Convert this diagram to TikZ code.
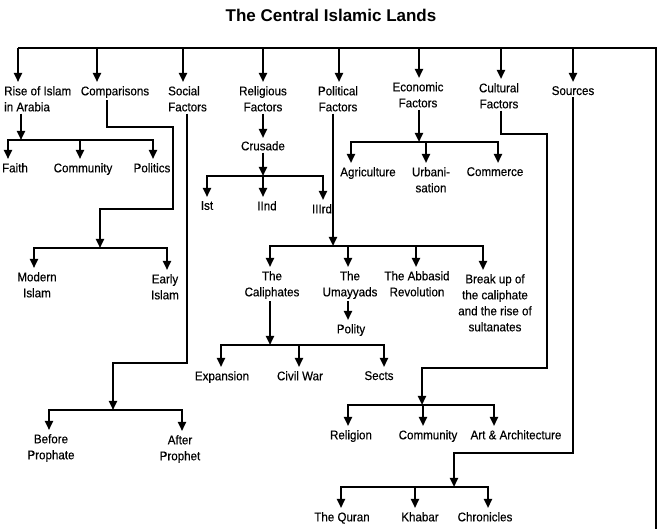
\documentclass[tikz,border=0pt]{standalone}
\usepackage{fontspec}
\setmainfont{Liberation Sans}
\newfontfamily\lblfont[FakeStretch=0.92,FakeBold=0.4]{Liberation Sans}
\usetikzlibrary{arrows.meta}
\begin{document}
\begin{tikzpicture}[x=1pt,y=-1pt,
  lbl/.style={font=\lblfont\fontsize{12.6}{16}\selectfont, inner sep=0pt, anchor=north, align=center},
  lnk/.style={line width=2.2pt, line join=miter},
  bar/.style={lnk, line cap=rect},
  arr/.style={lnk, -{Triangle[width=8pt,length=9pt]}},
  arrn/.style={arr, shorten >=4pt},
  arrs/.style={arr, shorten <=2pt},
  ]
\useasboundingbox (0,0) rectangle (662,529);
\node[font=\bfseries\fontsize{17}{20}\selectfont] (title) at (331,15) {The Central Islamic Lands};

% top row
\node[lbl, anchor=north west, align=left] (rise) at (4,86) {Rise of Islam\\in Arabia};
\node[lbl] (comp) at (115,86) {Comparisons};
\node[lbl, anchor=north west, align=left] (soc) at (168,86) {Social\\Factors};
\node[lbl] (rel) at (263,86) {Religious\\Factors};
\node[lbl] (pol) at (338,86) {Political\\Factors};
\node[lbl] (eco) at (418,82) {Economic\\Factors};
\node[lbl] (cul) at (499,83) {Cultural\\Factors};
\node[lbl] (src) at (573,86) {Sources};

\draw[lnk] (18,48) -- (656,48) -- (656,531);
\foreach \x/\n in {18/rise,97/comp,183/soc,263/rel,339/pol,419/eco,501/cul,573/src}
  \draw[arrn] (\x,48) -- (\x,48 |- \n.north);

% Rise of Islam
\node[lbl] (faith) at (15,163) {Faith};
\node[lbl] (comma) at (83,163) {Community};
\node[lbl] (polit) at (152,163) {Politics};
\draw[arrs] (21,0 |- rise.south) -- (21,140);
\draw[bar] (8,140) -- (153,140);
\foreach \x/\n in {8/faith,80/comma,153/polit}
  \draw[arrn] (\x,140) -- (\x,140 |- \n.north);

% Comparisons
\node[lbl] (modern) at (37,272) {Modern\\Islam};
\node[lbl] (early) at (165,274) {Early\\Islam};
\draw[arrs] (107,0 |- comp.south) -- (107,127) -- (173,127) -- (173,209) -- (100,209) -- (100,248);
\draw[bar] (34,248) -- (167,248);
\foreach \x/\n in {34/modern,167/early}
  \draw[arrn] (\x,248) -- (\x,248 |- \n.north);

% Social Factors
\node[lbl] (before) at (51,434) {Before\\Prophate};
\node[lbl] (after) at (180,435) {After\\Prophet};
\draw[arrs] (187,0 |- soc.south) -- (187,363) -- (113,363) -- (113,410);
\draw[bar] (49,410) -- (182,410);
\foreach \x/\n in {49/before,182/after}
  \draw[arrn] (\x,410) -- (\x,410 |- \n.north);

% Religious Factors
\node[lbl] (crus) at (263,141) {Crusade};
\node[lbl] (ist) at (207,201) {Ist};
\node[lbl] (iind) at (267,201) {IInd};
\node[lbl] (iiird) at (322,204) {IIIrd};
\draw[arrs, shorten >=3pt] (rel.south) -- (crus.north);
\draw[arrs] (crus.south) -- (263,176);
\draw[bar] (207,176) -- (323,176);
\foreach \x/\n in {207/ist,263/iind,323/iiird}
  \draw[arrn] (\x,176) -- (\x,176 |- \n.north);

% Economic Factors
\node[lbl] (agri) at (368,167) {Agriculture};
\node[lbl] (urb) at (431,167) {Urbani-\\sation};
\node[lbl] (comc) at (495,167) {Commerce};
\draw[arrs] (419,0 |- eco.south) -- (419,142);
\draw[bar] (351,142) -- (498,142);
\foreach \x/\n in {351/agri,426/urb,498/comc}
  \draw[arrn] (\x,142) -- (\x,142 |- \n.north);

% Political Factors
\node[lbl] (calip) at (272,271) {The\\Caliphates};
\node[lbl] (umay) at (350,271) {The\\Umayyads};
\node[lbl] (abb) at (417,271) {The Abbasid\\Revolution};
\node[lbl] (brk) at (495,274) {Break up of\\the caliphate\\and the rise of\\sultanates};
\draw[arrs] (333,0 |- pol.south) -- (333,246);
\draw[bar] (270,246) -- (483,246);
\foreach \x/\n in {270/calip,348/umay,416/abb,483/brk}
  \draw[arrn] (\x,246) -- (\x,246 |- \n.north);

\node[lbl] (polity) at (351,324) {Polity};
\draw[arrs, shorten >=4pt] (348,0 |- umay.south) -- (348,0 |- polity.north);

\node[lbl] (exp) at (222,371) {Expansion};
\node[lbl] (civ) at (300,371) {Civil War};
\node[lbl] (sects) at (379,371) {Sects};
\draw[arrs] (270,0 |- calip.south) -- (270,345);
\draw[bar] (221,345) -- (384,345);
\foreach \x/\n in {221/exp,299/civ,384/sects}
  \draw[arrn] (\x,345) -- (\x,345 |- \n.north);

% Cultural Factors
\node[lbl] (relig) at (351,430) {Religion};
\node[lbl] (commb) at (428,430) {Community};
\node[lbl] (art) at (516,430) {Art \& Architecture};
\draw[arrs] (501,0 |- cul.south) -- (501,134) -- (547,134) -- (547,368) -- (422,368) -- (422,405);
\draw[bar] (348,405) -- (494,405);
\foreach \x/\n in {348/relig,423/commb,494/art}
  \draw[arrn] (\x,405) -- (\x,405 |- \n.north);

% Sources
\node[lbl] (quran) at (342,512) {The Quran};
\node[lbl] (khab) at (420,512) {Khabar};
\node[lbl] (chron) at (485,512) {Chronicles};
\draw[arrs] (573,0 |- src.south) -- (573,453) -- (454,453) -- (454,487);
\draw[bar] (341,487) -- (488,487);
\foreach \x/\n in {341/quran,415/khab,488/chron}
  \draw[arrn] (\x,487) -- (\x,487 |- \n.north);
\end{tikzpicture}
\end{document}
